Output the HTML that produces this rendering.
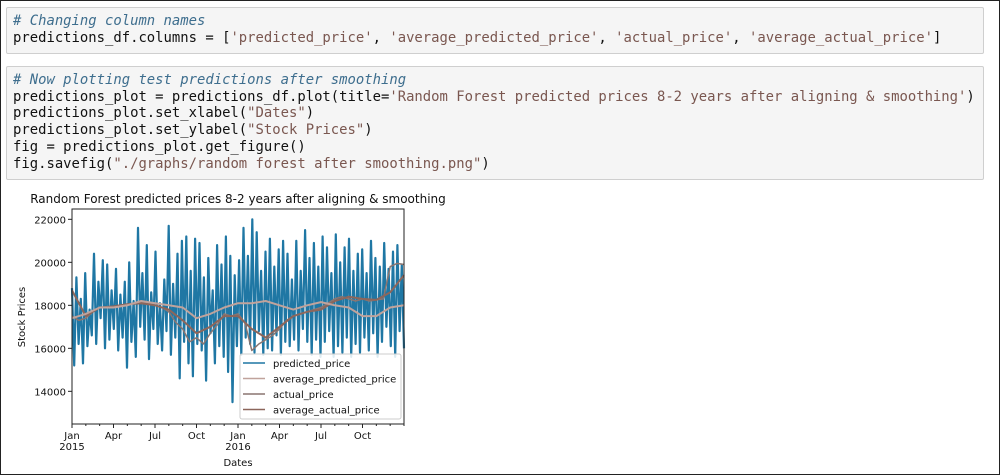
<!DOCTYPE html>
<html><head><meta charset="utf-8">
<style>
html,body{margin:0;padding:0;}
body{width:1000px;height:475px;background:#fff;position:relative;overflow:hidden;font-family:"Liberation Sans",sans-serif;}
#frame{position:absolute;left:0;top:0;width:998px;height:473px;border:1px solid #222;}
.cell{position:absolute;left:6px;width:976px;background:#f5f5f5;border:1px solid #cfcfcf;border-radius:2px;}
.code{font-family:"DejaVu Sans Mono","Liberation Mono",monospace;font-size:13.9px;line-height:16.7px;color:#111;white-space:pre;position:absolute;left:6px;}
.cm{color:#3e6e8e;font-style:italic;}
.st{color:#7a5750;}
svg{position:absolute;left:0;top:0;}
</style></head>
<body>
<div id="frame"></div>
<div class="cell" style="top:7px;height:45px;">
<div class="code" style="top:5px;"><span class="cm"># Changing column names</span>
predictions_df.columns = [<span class="st">'predicted_price'</span>, <span class="st">'average_predicted_price'</span>, <span class="st">'actual_price'</span>, <span class="st">'average_actual_price'</span>]</div>
</div>
<div class="cell" style="top:66px;height:112px;">
<div class="code" style="top:5px;"><span class="cm"># Now plotting test predictions after smoothing</span>
predictions_plot = predictions_df.plot(title=<span class="st">'Random Forest predicted prices 8-2 years after aligning &amp; smoothing'</span>)
predictions_plot.set_xlabel(<span class="st">"Dates"</span>)
predictions_plot.set_ylabel(<span class="st">"Stock Prices"</span>)
fig = predictions_plot.get_figure()
fig.savefig(<span class="st">"./graphs/random forest after smoothing.png"</span>)</div>
</div>
<svg id="chart" width="1000" height="475"></svg>
<script>
const xTickLabels=["Jan","Apr","Jul","Oct","Jan","Apr","Jul","Oct"];
const xTickYears=["2015","","","","2016","","",""];
const xTickMonths=[0,3,6,9,12,15,18,21];
const yTicks=[14000,16000,18000,20000,22000];
const seriesNames=["predicted_price","average_predicted_price","actual_price","average_actual_price"];
// predicted price, evenly spaced over 24 months
const predicted=[18800,15200,19300,16200,18300,15300,19500,16100,17800,16600,20400,16200,19100,17400,20100,16000,19900,16400,18700,16900,19700,15900,18500,16500,19100,15100,20000,16300,18200,15600,21600,17000,19500,16400,20800,15500,18600,16900,20500,16200,18100,15900,19200,16800,21700,15700,19000,16500,20400,14600,21000,16300,21200,15300,19600,14700,21100,16200,20900,15900,19300,14500,20200,16700,18700,15300,20800,16100,19900,15600,21200,14900,20300,13500,19400,16100,20100,15700,21600,16500,20300,16200,22000,15800,21400,16800,19600,15700,20500,16000,21100,15900,19800,16600,20600,15700,21000,16300,20400,16100,19200,16400,21000,15900,19600,16900,21500,16300,20200,15700,20900,16400,19800,15600,21200,16300,20700,16800,19500,15600,21300,16100,20000,15800,20700,16500,21100,15600,19600,16200,20400,15800,20600,16500,19500,15900,21000,16700,20200,15600,19800,16300,20900,17000,19700,16100,20500,15600,20800,16800,19900,16000];
// monthly smoothed series, months 0..24
const avgPredicted=[17400,17600,17900,17900,18000,18200,18100,18000,17900,17400,17600,17900,18100,18100,18200,18000,17800,18000,18150,18000,17900,17500,17500,17900,18000];
const avgActual=[18700,17500,17900,17950,18050,18100,18000,17800,17300,16700,17000,17500,17500,16900,16500,17000,17500,17700,17800,18200,18400,18300,18250,18600,19400];
// actual price, half-monthly (months 0..24 step 0.5)
const actual=[17500,17300,17400,17700,17900,17900,17950,18000,18050,18100,18150,18100,18000,17900,17700,17200,16900,16300,16500,16200,16700,17100,17600,17500,17600,17200,15900,16200,16400,16600,16900,17300,17500,17600,17700,17800,17900,18100,18300,18400,18300,18200,18300,18200,18250,18300,19800,19950,19900];

const svg=document.getElementById('chart');
const NS='http://www.w3.org/2000/svg';
const X0=72,X1=404,Y0=209,Y1=424;
const yMin=12480,yMax=22480;
function xs(m){return X0+(X1-X0)*m/24;}
function ys(v){return Y1-(v-yMin)/(yMax-yMin)*(Y1-Y0);}
function el(tag,attrs,parent){const e=document.createElementNS(NS,tag);for(const k in attrs)e.setAttribute(k,attrs[k]);(parent||svg).appendChild(e);return e;}
function txt(x,y,s,anchor,size,parent){const t=el('text',{x:x,y:y,'text-anchor':anchor,'font-size':size,'font-family':'"DejaVu Sans","Liberation Sans",sans-serif',fill:'#111'},parent);t.textContent=s;return t;}

const title=txt(238,203,"Random Forest predicted prices 8-2 years after aligning & smoothing","middle",12);



function line(vals,step,color,w,name){
  const pts=vals.map((v,i)=>xs(i*step).toFixed(1)+','+ys(v).toFixed(1)).join(' ');
  const p=el('polyline',{points:pts,fill:'none',stroke:color,'stroke-width':w,'stroke-linejoin':'round'});
  
  
}
line(predicted,24/(predicted.length-1),'#1f77a4',2.2,'predicted-price-line');
line(actual,0.5,'#8a7570',1.5,'actual-price-line');
line(avgActual,1,'#8c665b',2,'average-actual-price-line');
line(avgPredicted,1,'#c0a39c',2,'average-predicted-price-line');

const frame=el('rect',{x:X0,y:Y0,width:X1-X0,height:Y1-Y0,fill:'none',stroke:'#222','stroke-width':1});



yTicks.forEach(v=>{
  const y=ys(v);
  const tk=el('line',{x1:X0-4,x2:X0,y1:y,y2:y,stroke:'#222'});
  
  
  const t=txt(X0-6,y+4,String(v),"end",10);
  
  
});
for(let m=0;m<=24;m++){
  const major=xTickMonths.indexOf(m)>=0;
  const tk=el('line',{x1:xs(m),x2:xs(m),y1:Y1,y2:Y1+(major?4:2),stroke:'#222'});
  
  
}
xTickMonths.forEach((m,i)=>{
  const t=txt(xs(m),Y1+15,xTickLabels[i],"middle",10);
  
  
  if(xTickYears[i]){
    const t2=txt(xs(m),Y1+26,xTickYears[i],"middle",10);
    
    
  }
});
const xl=txt(238,466,"Dates","middle",10);


const yl=txt(0,0,"Stock Prices","middle",10);
yl.setAttribute('transform','translate(25,317) rotate(-90)');



const lg=el('g',{});


el('rect',{x:240,y:354,width:161,height:65,fill:'#fff','fill-opacity':0.85,stroke:'#ccc',rx:2},lg);
const lcolors=['#1f77a4','#c0a39c','#8a7570','#8c665b'];
seriesNames.forEach((n,i)=>{
  const y=363+i*15.5;
  el('line',{x1:243,x2:265,y1:y,y2:y,stroke:lcolors[i],'stroke-width':1.5},lg);
  const t=txt(273,y+4,n,"start",10,lg);
  
  
});
</script>
</body></html>
